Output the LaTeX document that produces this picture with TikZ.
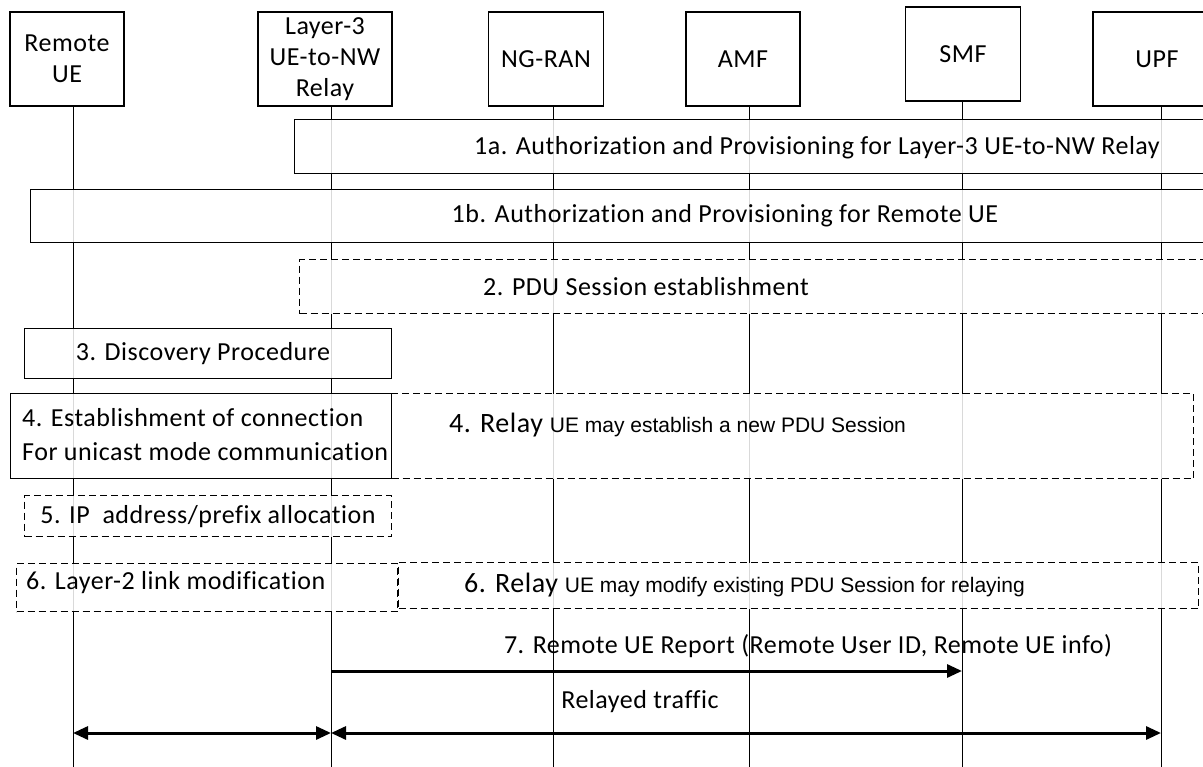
\documentclass[tikz,border=0pt]{standalone}
\usepackage{fontspec}
\setmainfont{Carlito}[Ligatures=NoCommon, LetterSpace=2]
\newfontfamily\arialsans{Liberation Sans}
\newcommand\relaybig{\fontsize{28}{34}\selectfont}
\newcommand\relaysmall{\fontsize{21}{26}\selectfont\arialsans}
\usetikzlibrary{arrows.meta, positioning, calc}
\tikzset{
    entity/.style={draw, line width=1.2pt, align=center, minimum height=94pt, inner sep=0pt, fill=white, font=\fontsize{26}{31}\selectfont},
    lifeline/.style={line width=1pt, draw=black},
    stepbox/.style={draw, line width=1.2pt, fill=white, fill opacity=0.85, text opacity=1, anchor=north west, inner sep=0pt},
    optbox/.style={stepbox, dash pattern=on 7pt off 4pt},
    steptext/.style={inner sep=0pt, align=left, font=\fontsize{26}{34}\selectfont},
    msg/.style={-{Triangle[length=15pt, width=13pt]}, line width=3pt},
    biarrow/.style={{Triangle[length=15pt, width=13pt]}-{Triangle[length=15pt, width=13pt]}, line width=3pt}
}

\begin{document}
\begin{tikzpicture}[x=1pt, y=-1pt]
    \useasboundingbox (0,0) rectangle (1203,767);
    \clip (0,0) rectangle (1203,767);

    \node (remote) [entity, minimum width=114pt] at (67,59) {Remote\\UE};
    \node (relay) [entity, minimum width=134pt] at (325,59) {Layer-3\\UE-to-NW\\Relay};
    \node (ngran) [entity, minimum width=115pt] at (546,59) {NG-RAN};
    \node (amf) [entity, minimum width=114pt] at (743,59) {AMF};
    \node (smf) [entity, minimum width=115pt] at (963,54) {SMF};
    \node (upf) [entity, minimum width=128pt] at (1157,59) {UPF};

    \coordinate (remoteX) at ([xshift=6pt]remote.south);
    \coordinate (relayX) at ([xshift=6pt]relay.south);
    \coordinate (ngranX) at ([xshift=7pt]ngran.south);
    \coordinate (amfX) at ([xshift=6pt]amf.south);
    \coordinate (smfX) at ([xshift=-1pt]smf.south);
    \coordinate (upfX) at ([xshift=4pt]upf.south);

    \foreach \e in {remoteX, relayX, ngranX, amfX, smfX, upfX}
        \draw [lifeline] (\e) -- (\e |- 0,770);

    \node (s1a) [stepbox, minimum width=921pt, minimum height=54pt] at (294,119) {};
    \node (s1b) [stepbox, minimum width=1185pt, minimum height=53pt] at (30,189) {};
    \node (s2) [optbox, minimum width=916pt, minimum height=54pt] at (299,259) {};
    \node (s3) [stepbox, minimum width=367pt, minimum height=50pt] at (24,328) {};
    \node (s4a) [stepbox, minimum width=381pt, minimum height=85pt] at (10,393) {};
    \node (s4b) [optbox, minimum width=802pt, minimum height=85pt] at (391,393) {};
    \node (s5) [optbox, minimum width=367pt, minimum height=41pt] at (24,495) {};
    \node (s6a) [optbox, minimum width=381pt, minimum height=48pt] at (16,563) {};
    \node (s6b) [optbox, minimum width=800pt, minimum height=46pt] at (398,562) {};

    \node (t1a) [steptext] at (817,148) {1a. Authorization and Provisioning for Layer-3 UE-to-NW Relay};
    \node (t1b) [steptext] at (725,216) {1b. Authorization and Provisioning for Remote UE};
    \node (t2) [steptext] at (646,287) {2. PDU Session establishment};
    \node (t3) [steptext] at (203,354) {3. Discovery Procedure};
    \node (t4a) [steptext, anchor=west] at (22,435) {4. Establishment of connection\\For unicast mode communication};
    \node (t4b) [steptext, anchor=west] at (449,425) {\relaybig 4. Relay {\relaysmall UE may establish a new PDU Session}};
    \node (t5) [steptext] at (208,517) {5. IP\ \ address/prefix allocation};
    \node (t6a) [steptext, anchor=west] at (26,583) {6. Layer-2 link modification};
    \node (t6b) [steptext, anchor=west] at (464,585) {\relaybig 6. Relay {\relaysmall UE may modify existing PDU Session for relaying}};
    \node (t7) [steptext] at (808,646) {7. Remote UE Report (Remote User ID, Remote UE info)};
    \node (relayed) [steptext] at (640,702) {Relayed traffic};

    \draw [msg] (relayX |- 0,671) -- (smfX |- 0,671);
    \draw [biarrow] (remoteX |- 0,733) -- (relayX |- 0,733);
    \draw [biarrow] (relayX |- 0,733) -- (upfX |- 0,733);
\end{tikzpicture}
\end{document}
